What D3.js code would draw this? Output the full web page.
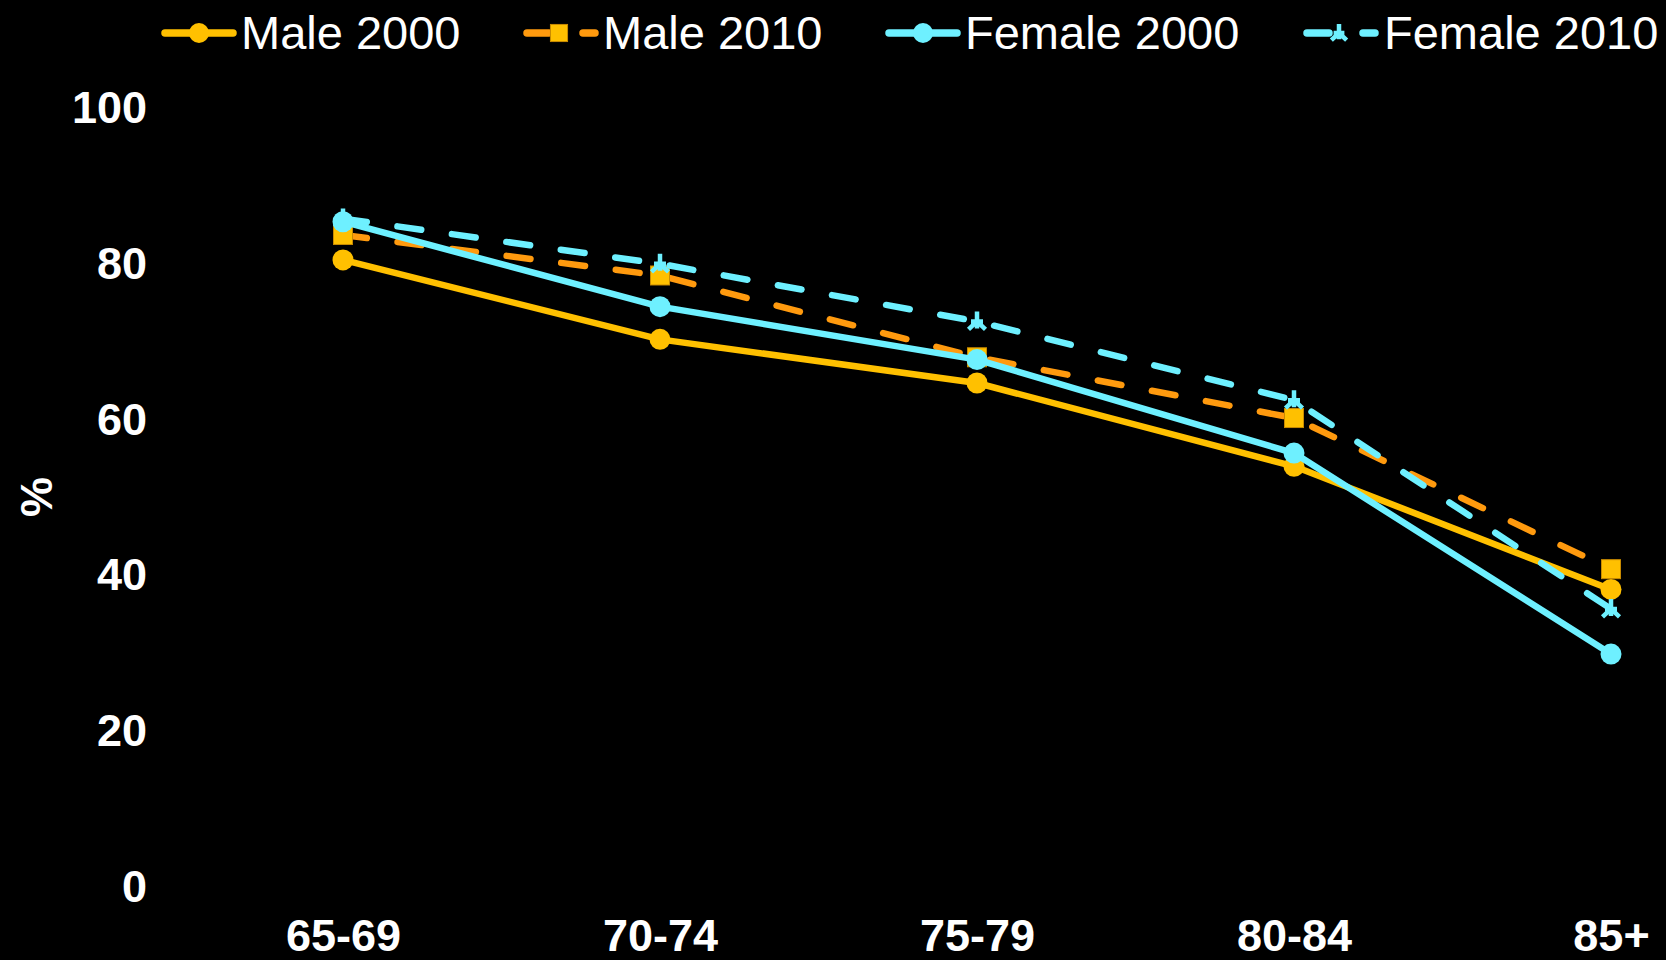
<!DOCTYPE html>
<html>
<head>
<meta charset="utf-8">
<script src="https://cdn.jsdelivr.net/npm/d3@7/dist/d3.min.js"></script>
<style>
  html, body { margin: 0; padding: 0; background: #000; }
  svg { display: block; }
  text { font-family: "Liberation Sans", Arial, sans-serif; fill: #fff; }
</style>
</head>
<body>
<svg id="chart" width="1666" height="960"></svg>
<script>
// Age groups on the horizontal axis
const ageGroups = ["65-69", "70-74", "75-79", "80-84", "85+"];
// Percentages per age group
const male2000   = [80.5, 70.3, 64.7, 54.0, 38.2];
const male2010   = [83.7, 78.5, 68.0, 60.2, 40.8];
const female2000 = [85.4, 74.5, 67.7, 55.7, 29.9];
const female2010 = [85.8, 80.0, 72.6, 62.5, 35.7];
const yTicks = [0, 20, 40, 60, 80, 100];

const GOLD = "#FFC000", ORANGE = "#FF9A0E", CYAN = "#6EF0FF";

const series = [
  { name: "Male 2000",   values: male2000,   line: GOLD,   marker: "circle", fill: GOLD, dashed: false },
  { name: "Male 2010",   values: male2010,   line: ORANGE, marker: "square", fill: GOLD, dashed: true },
  { name: "Female 2000", values: female2000, line: CYAN,   marker: "circle", fill: CYAN, dashed: false },
  { name: "Female 2010", values: female2010, line: CYAN,   marker: "star",   fill: CYAN, dashed: true }
];

const svg = d3.select("#chart");
svg.append("rect").attr("width", 1666).attr("height", 960).attr("fill", "#000");

const x = d3.scalePoint().domain(ageGroups).range([343, 1611]);
const y = d3.scaleLinear().domain([0, 100]).range([887, 108]);

// Y axis labels only
const yAxis = svg.append("g")
  .attr("transform", "translate(155,0)")
  .call(d3.axisLeft(y).tickValues(yTicks).tickSize(0).tickPadding(8));
yAxis.select(".domain").remove();
yAxis.selectAll("text")
  .style("font-family", "'Liberation Sans', Arial, sans-serif")
  .style("font-size", "45px").style("font-weight", "bold").attr("fill", "#fff");

// X axis labels only
const xAxis = svg.append("g")
  .attr("transform", "translate(0,919)")
  .call(d3.axisBottom(x).tickSize(0).tickPadding(0));
xAxis.select(".domain").remove();
xAxis.selectAll("text")
  .style("font-family", "'Liberation Sans', Arial, sans-serif")
  .style("font-size", "45px").style("font-weight", "bold").attr("fill", "#fff");

// Y axis title
svg.append("text")
  .attr("transform", "translate(52,497) rotate(-90)")
  .attr("text-anchor", "middle")
  .style("font-size", "45px").style("font-weight", "bold")
  .text("%");

function drawMarker(g, type, fill, cx, cy, scale) {
  const s = scale || 1;
  if (type === "circle") {
    g.append("circle").attr("cx", cx).attr("cy", cy).attr("r", 10.5 * s).attr("fill", fill);
  } else if (type === "square") {
    const h = 9.5 * s;
    g.append("rect").attr("x", cx - h).attr("y", cy - h).attr("width", 2 * h).attr("height", 2 * h)
      .attr("fill", fill).attr("stroke", "#C88A00").attr("stroke-width", 1);
  } else {
    const r = 10 * s;
    const p = d3.path();
    p.moveTo(cx, cy - r); p.lineTo(cx, cy + r * 0.7);
    p.moveTo(cx - r * 0.6, cy); p.lineTo(cx + r * 0.6, cy);
    p.moveTo(cx, cy); p.lineTo(cx - r * 0.85, cy + r * 0.8);
    p.moveTo(cx, cy); p.lineTo(cx + r * 0.85, cy + r * 0.8);
    g.append("path").attr("d", p.toString()).attr("fill", "none")
      .attr("stroke", fill).attr("stroke-width", 4.5).attr("stroke-linecap", "butt");
  }
}

const line = d3.line().x((d, i) => x(ageGroups[i])).y(d => y(d));

series.forEach(s => {
  const g = svg.append("g");
  g.append("path")
    .attr("d", line(s.values))
    .attr("fill", "none")
    .attr("stroke", s.line)
    .attr("stroke-width", 6.5)
    .attr("stroke-linecap", "round")
    .attr("stroke-linejoin", "round")
    .attr("stroke-dasharray", s.dashed ? "24,31" : null);
  s.values.forEach((v, i) => drawMarker(g, s.marker, s.fill, x(ageGroups[i]), y(v)));
});

// Legend
const legendItems = [
  { s: series[0], x0: 165, x1: 233, tx: 241 },
  { s: series[1], x0: 527, x1: 595, tx: 603 },
  { s: series[2], x0: 889, x1: 957, tx: 965 },
  { s: series[3], x0: 1307, x1: 1375, tx: 1384 }
];
const ly = 33;
legendItems.forEach(it => {
  const g = svg.append("g");
  g.append("line")
    .attr("x1", it.x0).attr("x2", it.x1).attr("y1", ly).attr("y2", ly)
    .attr("stroke", it.s.line).attr("stroke-width", 7.5).attr("stroke-linecap", "round")
    .attr("stroke-dasharray", it.s.dashed ? "22,34" : null);
  drawMarker(g, it.s.marker, it.s.fill, (it.x0 + it.x1) / 2 + (it.s.dashed ? -2 : 0), ly, it.s.marker === "circle" ? 0.95 : 0.9);
  g.append("text")
    .attr("x", it.tx).attr("y", 49)
    .style("font-size", "47px")
    .text(it.s.name);
});
</script>
</body>
</html>
